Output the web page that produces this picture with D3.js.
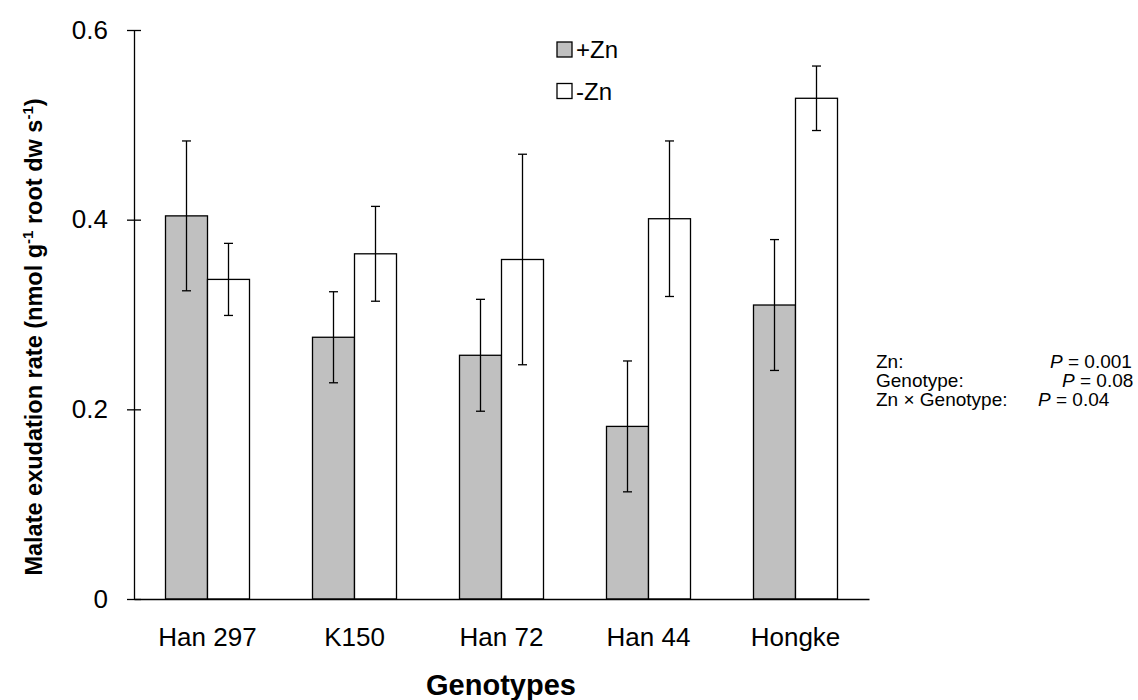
<!DOCTYPE html>
<html>
<head>
<meta charset="utf-8">
<script src="https://cdn.jsdelivr.net/npm/d3@7"></script>
<style>
  html, body { margin: 0; padding: 0; background: #fff; }
  svg text { font-family: "Liberation Sans", Arial, sans-serif; fill: #000; }
</style>
</head>
<body>
<svg id="chart" width="1138" height="700"></svg>
<script>
// Genotypes and malate exudation rates (nmol g-1 root dw s-1), mean ± error
const genotypes = ["Han 297", "K150", "Han 72", "Han 44", "Hongke"];
const plusZn = [0.404, 0.276, 0.257, 0.182, 0.310];
const plusZnErr = [0.079, 0.048, 0.059, 0.069, 0.069];
const minusZn = [0.337, 0.364, 0.358, 0.401, 0.528];
const minusZnErr = [0.038, 0.050, 0.111, 0.082, 0.034];
const treatments = ["+Zn", "-Zn"];
const treatmentFill = ["#c0c0c0", "#ffffff"];
const yTicks = [0, 0.2, 0.4, 0.6];
const statLabels = ["Zn:", "Genotype:", "Zn \u00d7 Genotype:"];
const statValues = ["0.001", "0.08", "0.04"];

const FONT = "'Liberation Sans', Arial, sans-serif";
const svg = d3.select("#chart");

const x = d3.scaleBand().domain(genotypes).range([134, 869]).padding(0);
const barW = 42;
const inner = d3.scaleBand().domain(treatments)
  .range([x.bandwidth() / 2 - barW, x.bandwidth() / 2 + barW]).padding(0);
const y = d3.scaleLinear().domain([0, 0.6]).range([599, 30]);

const rows = genotypes.map((g, i) => [
  { g, t: "+Zn", v: plusZn[i], e: plusZnErr[i], fill: treatmentFill[0] },
  { g, t: "-Zn", v: minusZn[i], e: minusZnErr[i], fill: treatmentFill[1] }
]).flat();

// bars
svg.append("g").selectAll("rect").data(rows).join("rect")
  .attr("x", d => x(d.g) + inner(d.t))
  .attr("y", d => y(d.v))
  .attr("width", inner.bandwidth())
  .attr("height", d => y(0) - y(d.v))
  .attr("fill", d => d.fill)
  .attr("stroke", "#000")
  .attr("stroke-width", 1.3);

// error bars
const eg = svg.append("g").attr("stroke", "#000").attr("stroke-width", 1.3);
rows.forEach(d => {
  const cx = x(d.g) + inner(d.t) + inner.bandwidth() / 2;
  eg.append("line").attr("x1", cx).attr("x2", cx)
    .attr("y1", y(d.v + d.e)).attr("y2", y(d.v - d.e));
  [d.v + d.e, d.v - d.e].forEach(v => {
    eg.append("line").attr("x1", cx - 4.5).attr("x2", cx + 4.5)
      .attr("y1", y(v)).attr("y2", y(v));
  });
});

// y axis
const yAxis = d3.axisLeft(y).tickValues(yTicks)
  .tickFormat(d => d === 0 ? "0" : d3.format(".1f")(d))
  .tickSizeInner(7).tickSizeOuter(0).tickPadding(19);
const ya = svg.append("g").attr("transform", "translate(134,0)").call(yAxis);
ya.select(".domain").attr("stroke", "#000").attr("stroke-width", 1.3);
ya.selectAll(".tick line").attr("x2", 7).attr("x1", -7).attr("stroke-width", 1.3);
ya.selectAll(".tick text").style("font-size", "26px").style("font-family", FONT);

// x axis
const xAxis = d3.axisBottom(x).tickSize(0).tickPadding(29);
const xa = svg.append("g").attr("transform", `translate(0,${y(0)})`).call(xAxis);
xa.select(".domain").attr("stroke", "#000").attr("stroke-width", 1.3);
xa.selectAll(".tick text").style("font-size", "26px").style("font-family", FONT);

// axis titles
svg.append("text").attr("x", 501).attr("y", 695)
  .attr("text-anchor", "middle").attr("font-weight", "bold").attr("font-size", 29)
  .text("Genotypes");

const yt = svg.append("text")
  .attr("transform", "translate(42,337) rotate(-90)")
  .attr("text-anchor", "middle").attr("font-weight", "bold").attr("font-size", 23.5);
yt.append("tspan").text("Malate exudation rate (nmol g");
yt.append("tspan").attr("dy", -9).attr("font-size", 15).text("-1");
yt.append("tspan").attr("dy", 9).text(" root dw s");
yt.append("tspan").attr("dy", -9).attr("font-size", 15).text("-1");
yt.append("tspan").attr("dy", 9).text(")");

// legend
const lg = svg.append("g");
treatments.forEach((t, i) => {
  const ly = 42 + i * 41.5;
  lg.append("rect").attr("x", 557).attr("y", ly).attr("width", 15).attr("height", 15)
    .attr("fill", treatmentFill[i]).attr("stroke", "#000").attr("stroke-width", 1.3);
  lg.append("text").attr("x", 576).attr("y", ly + 16).attr("font-size", 24).text(t);
});

// statistics
const pX = [1050, 1062, 1038];
statLabels.forEach((s, i) => {
  const by = 368 + i * 19;
  svg.append("text").attr("x", 876).attr("y", by).attr("font-size", 19).text(s);
  const t = svg.append("text").attr("x", pX[i]).attr("y", by).attr("font-size", 19);
  t.append("tspan").attr("font-style", "italic").text("P");
  t.append("tspan").text(" = " + statValues[i]);
});
</script>
</body>
</html>
